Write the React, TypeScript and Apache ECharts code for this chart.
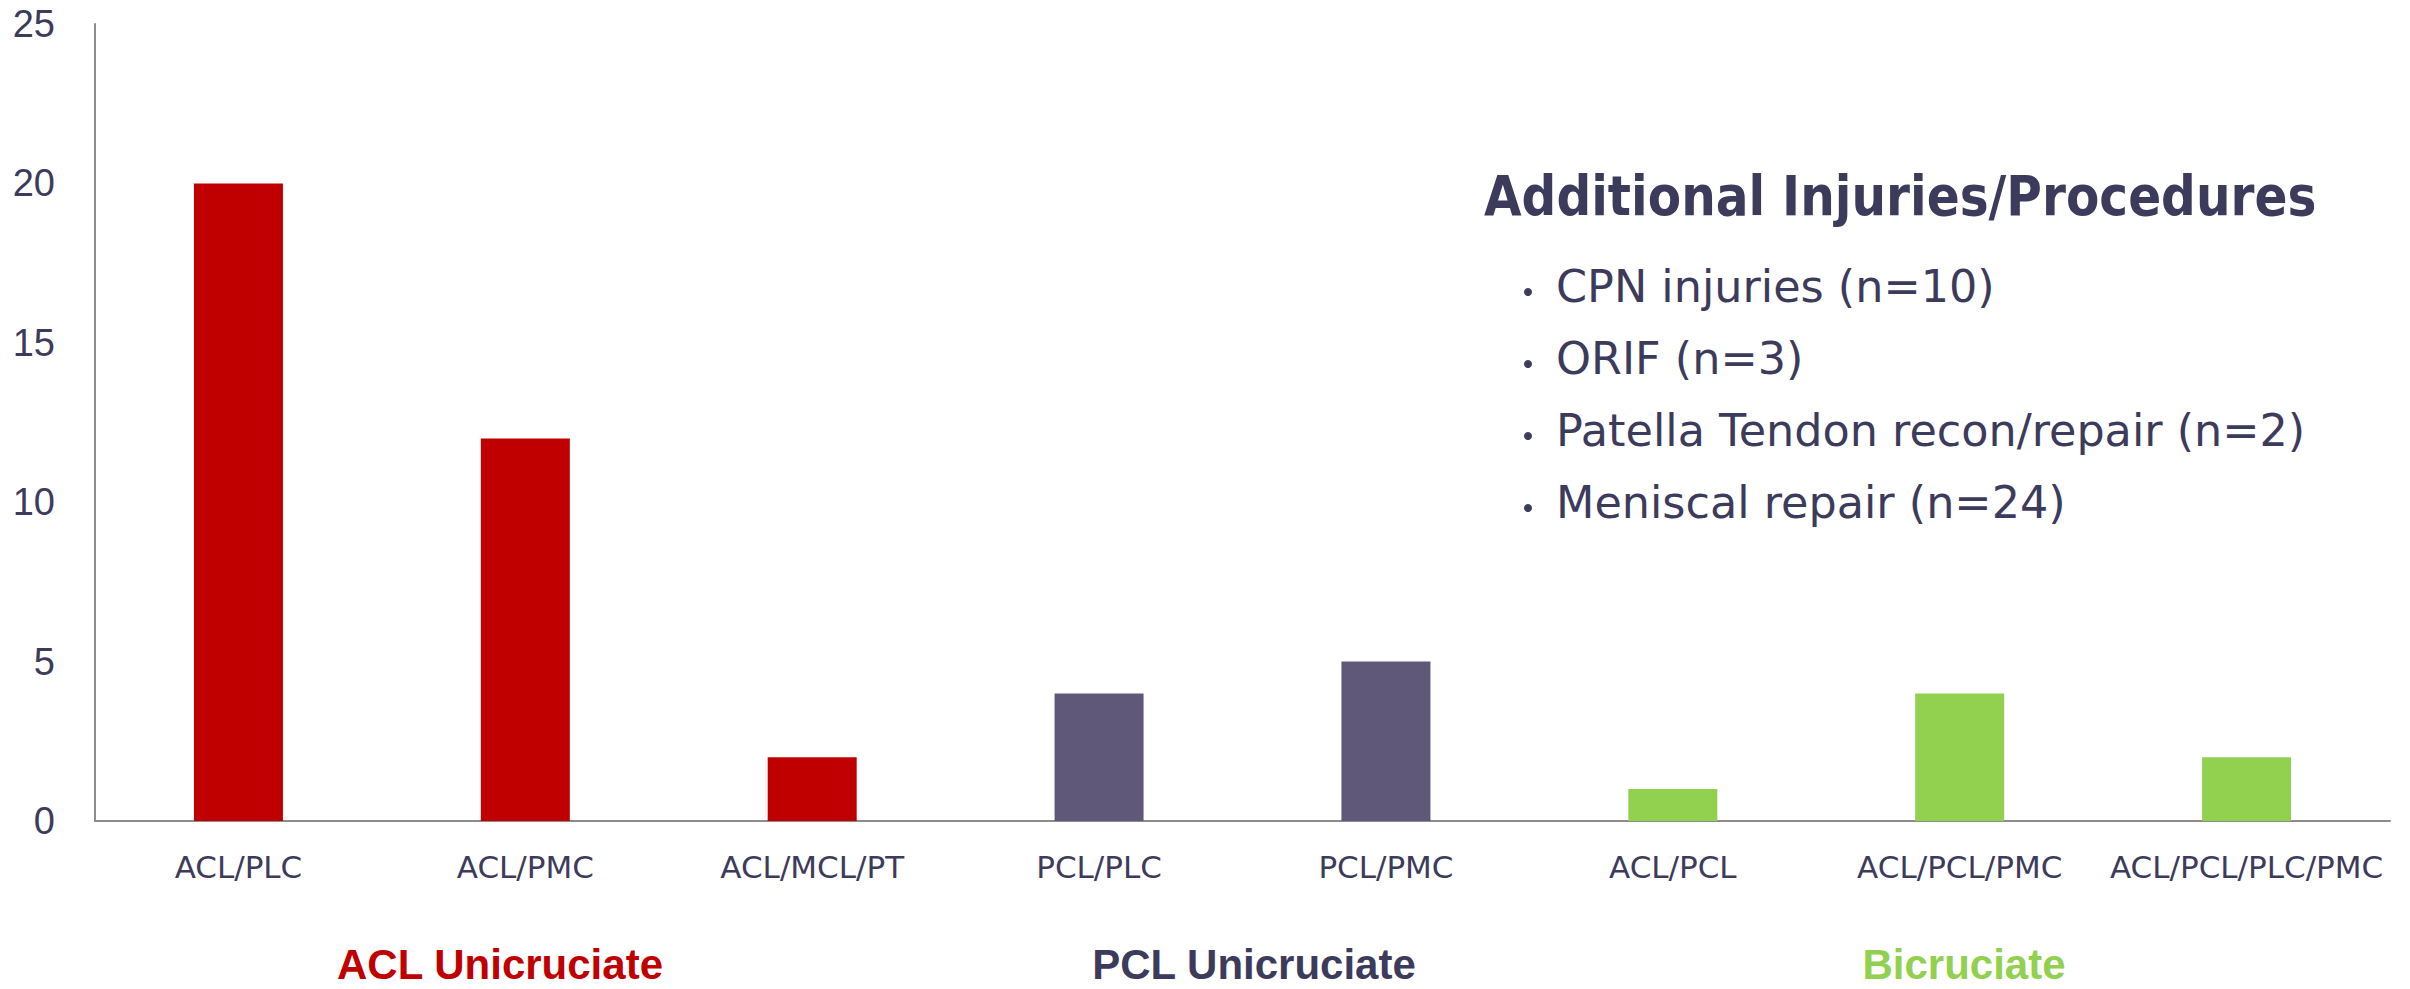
import React, { useEffect, useRef } from "react";
import * as echarts from "echarts";

const categories = ["ACL/PLC", "ACL/PMC", "ACL/MCL/PT", "PCL/PLC", "PCL/PMC", "ACL/PCL", "ACL/PCL/PMC", "ACL/PCL/PLC/PMC"];
const values = [20, 12, 2, 4, 5, 1, 4, 2];
const groupOfCategory = [0, 0, 0, 1, 1, 2, 2, 2];
const groupNames = ["ACL Unicruciate", "PCL Unicruciate", "Bicruciate"];
const groupColors = ["#C00000", "#5F5879", "#92D050"];
const groupLabelColors = ["#C00000", "#3D3B5C", "#92D050"];
const yTicks = { min: 0, max: 25, interval: 5 };
const panelTitle = "Additional Injuries/Procedures";
const panelItems = ["CPN injuries (n=10)", "ORIF (n=3)", "Patella Tendon recon/repair (n=2)", "Meniscal repair (n=24)"];

const NAVY = "#3D3B5C";
const AXIS_GRAY = "#8C8C8C";

export default function App() {
  const ref = useRef<HTMLDivElement>(null);
  useEffect(() => {
    if (!ref.current) return;
    const chart = echarts.init(ref.current, null, { renderer: "svg" });
    const groupCenters = [500, 1254, 1964];
    const graphic: any[] = [];
    groupNames.forEach((g, i) => {
      graphic.push({
        type: "text",
        x: groupCenters[i],
        y: 964,
        style: {
          text: g,
          fontFamily: "Liberation Sans",
          fontWeight: "bold",
          fontSize: 42,
          fill: groupLabelColors[i],
          textAlign: "center",
          align: "center",
          textVerticalAlign: "middle",
          verticalAlign: "middle",
        },
      });
    });
    graphic.push({
      type: "text",
      x: 1484,
      y: 196,
      scaleX: 0.884,
      style: {
        text: panelTitle,
        fontFamily: "DejaVu Sans",
        fontWeight: "bold",
        fontSize: 55,
        fill: NAVY,
        textAlign: "left",
        align: "left",
        textVerticalAlign: "middle",
        verticalAlign: "middle",
      },
    });
    panelItems.forEach((t, i) => {
      graphic.push({
        type: "circle",
        shape: { cx: 1528, cy: 292 + i * 72, r: 4 },
        style: { fill: NAVY },
      });
      graphic.push({
        type: "text",
        x: 1556,
        y: 286 + i * 72,
        style: {
          text: t,
          fontFamily: "DejaVu Sans",
          fontSize: 44.5,
          fill: NAVY,
          textAlign: "left",
          align: "left",
          textVerticalAlign: "middle",
          verticalAlign: "middle",
        },
      });
    });

    chart.setOption({
      animation: false,
      backgroundColor: "#ffffff",
      grid: { left: 95, right: 20, top: 24, bottom: 168, containLabel: false },
      xAxis: {
        type: "category",
        data: categories,
        axisTick: { show: false },
        axisLine: { show: true, lineStyle: { color: AXIS_GRAY, width: 2 } },
        axisLabel: {
          interval: 0,
          margin: 30,
          fontFamily: "DejaVu Sans",
          fontSize: 31,
          color: NAVY,
        },
      },
      yAxis: {
        type: "value",
        min: yTicks.min,
        max: yTicks.max,
        interval: yTicks.interval,
        splitLine: { show: false },
        axisTick: { show: false },
        axisLine: { show: true, lineStyle: { color: AXIS_GRAY, width: 2 } },
        axisLabel: {
          margin: 40,
          fontFamily: "Liberation Sans",
          fontSize: 38,
          color: NAVY,
        },
      },
      series: [
        {
          type: "bar",
          barWidth: 89,
          data: values.map((v, i) => ({
            value: v,
            itemStyle: { color: groupColors[groupOfCategory[i]] },
          })),
        },
      ],
      graphic,
    });
    return () => chart.dispose();
  }, []);
  return (
    <div
      ref={ref}
      style={{ position: "fixed", left: 0, top: 0, width: 2410, height: 989, background: "#fff" }}
    />
  );
}
